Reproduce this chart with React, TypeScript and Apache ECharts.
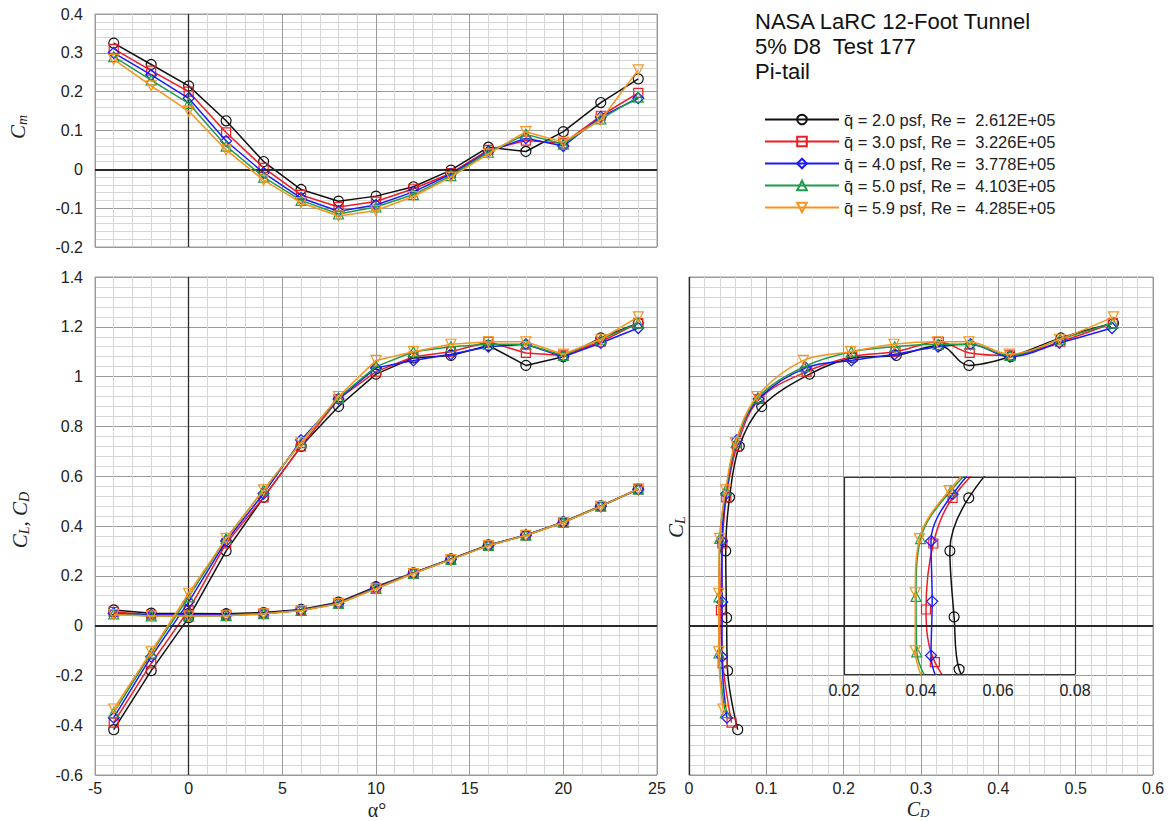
import React, { useEffect, useRef } from 'react';
import * as echarts from 'echarts';

const ALPHA = [-4, -2, 0, 2, 4, 6, 8, 10, 12, 14, 16, 18, 20, 22, 24];

const LEGEND_LABELS = [
  'q\u0304 = 2.0 psf, Re =  2.612E+05',
  'q\u0304 = 3.0 psf, Re =  3.226E+05',
  'q\u0304 = 4.0 psf, Re =  3.778E+05',
  'q\u0304 = 5.0 psf, Re =  4.103E+05',
  'q\u0304 = 5.9 psf, Re =  4.285E+05',
];
const COLORS = ['#111111', '#ee1c24', '#1a1aff', '#1f9a48', '#f7941d'];
const SYMBOLS = ['circle', 'rect', 'diamond', 'triangle', 'triangle'];
const SYMBOL_ROTATE = [0, 0, 0, 0, 180];
const SYMBOL_SIZE = [10, 9, 11, 10, 10];

// Pitching moment Cm vs alpha
const CM_Q20 = [0.325, 0.27, 0.215, 0.125, 0.02, -0.052, -0.082, -0.069, -0.045, -0.002, 0.057, 0.046, 0.097, 0.172, 0.233];
const CM_Q30 = [0.31, 0.254, 0.2, 0.095, 0.004, -0.066, -0.097, -0.083, -0.05, -0.01, 0.05, 0.074, 0.067, 0.138, 0.197];
const CM_Q40 = [0.3, 0.243, 0.183, 0.073, -0.009, -0.074, -0.108, -0.092, -0.058, -0.012, 0.046, 0.08, 0.06, 0.135, 0.183];
const CM_Q50 = [0.29, 0.23, 0.17, 0.06, -0.02, -0.08, -0.115, -0.097, -0.065, -0.016, 0.044, 0.09, 0.065, 0.13, 0.186];
const CM_Q59 = [0.283, 0.215, 0.15, 0.05, -0.028, -0.086, -0.12, -0.106, -0.07, -0.02, 0.04, 0.097, 0.07, 0.127, 0.256];

// Lift coefficient CL vs alpha
const CL_Q20 = [-0.418, -0.181, 0.032, 0.3, 0.515, 0.72, 0.88, 1.01, 1.075, 1.085, 1.125, 1.045, 1.08, 1.155, 1.215];
const CL_Q30 = [-0.39, -0.152, 0.062, 0.33, 0.515, 0.72, 0.91, 1.02, 1.08, 1.1, 1.14, 1.095, 1.085, 1.14, 1.215];
const CL_Q40 = [-0.37, -0.125, 0.095, 0.34, 0.53, 0.745, 0.91, 1.035, 1.065, 1.09, 1.12, 1.13, 1.08, 1.135, 1.195];
const CL_Q50 = [-0.35, -0.11, 0.115, 0.35, 0.545, 0.735, 0.915, 1.04, 1.1, 1.12, 1.13, 1.13, 1.085, 1.15, 1.215];
const CL_Q59 = [-0.335, -0.105, 0.13, 0.35, 0.545, 0.735, 0.92, 1.065, 1.1, 1.13, 1.14, 1.14, 1.09, 1.15, 1.24];

// Drag coefficient CD vs alpha
const CD_Q20 = [0.063, 0.0499, 0.0486, 0.0475, 0.0524, 0.065, 0.094, 0.156, 0.212, 0.268, 0.324, 0.362, 0.416, 0.481, 0.549];
const CD_Q30 = [0.055, 0.0436, 0.0413, 0.0432, 0.0482, 0.062, 0.091, 0.152, 0.211, 0.267, 0.323, 0.363, 0.415, 0.48, 0.548];
const CD_Q40 = [0.049, 0.0426, 0.0429, 0.0426, 0.0482, 0.062, 0.09, 0.151, 0.21, 0.266, 0.322, 0.364, 0.415, 0.479, 0.547];
const CD_Q50 = [0.047, 0.0389, 0.0387, 0.0399, 0.0478, 0.061, 0.089, 0.149, 0.21, 0.266, 0.322, 0.363, 0.415, 0.48, 0.548];
const CD_Q59 = [0.044, 0.0385, 0.0385, 0.0396, 0.0473, 0.06, 0.088, 0.148, 0.209, 0.265, 0.321, 0.362, 0.414, 0.479, 0.549];

// Inset (zoomed drag polar) axis range
const INSET_CD_RANGE = [0.02, 0.08];
const INSET_CL_RANGE = [-0.2, 0.6];

const CM_ALL = [CM_Q20, CM_Q30, CM_Q40, CM_Q50, CM_Q59];
const CL_ALL = [CL_Q20, CL_Q30, CL_Q40, CL_Q50, CL_Q59];
const CD_ALL = [CD_Q20, CD_Q30, CD_Q40, CD_Q50, CD_Q59];

const SANS = '"Liberation Sans", Arial, Helvetica, sans-serif';
const SERIF = '"Liberation Serif", "Times New Roman", serif';

const MAJOR = '#9a9a9a';
const MINOR = '#d6d6d6';
const LABEL = { color: '#222', fontSize: 16, fontFamily: SANS };

function valueAxis(gridIndex: number, min: number, max: number, interval: number, showLabels: boolean, margin: number) {
  return {
    type: 'value',
    gridIndex,
    min,
    max,
    interval,
    axisLine: { show: false },
    axisTick: { show: false },
    axisLabel: { show: showLabels, margin, ...LABEL },
    splitLine: { show: true, lineStyle: { color: MAJOR, width: 1 } },
    minorTick: { show: false, splitNumber: 5 },
    minorSplitLine: { show: true, lineStyle: { color: MINOR, width: 1 } },
  };
}

function refLines(x: number, y: number, name: string, data: any[], color = '#2a2a2a') {
  return {
    type: 'line',
    name,
    xAxisIndex: x,
    yAxisIndex: y,
    data: [],
    z: 1,
    silent: true,
    markLine: {
      silent: true,
      symbol: ['none', 'none'],
      label: { show: false },
      lineStyle: { color, type: 'solid' },
      data,
    },
  };
}

const ZERO = [{ yAxis: 0, lineStyle: { width: 2 } }, { xAxis: 0, lineStyle: { width: 1.3 } }];

export default function App() {
  const ref = useRef<HTMLDivElement>(null);

  useEffect(() => {
    if (!ref.current) return;
    const chart = echarts.init(ref.current, undefined, { renderer: 'svg' });

    const series: any[] = [
      refLines(0, 0, '_z0', ZERO),
      refLines(1, 1, '_z1', ZERO),
      refLines(2, 2, '_z2', ZERO),
      refLines(3, 3, '_frame', [
        { xAxis: INSET_CD_RANGE[0], lineStyle: { width: 1.2 } },
        { xAxis: INSET_CD_RANGE[1], lineStyle: { width: 1.2 } },
        { yAxis: INSET_CL_RANGE[0], lineStyle: { width: 1.2 } },
        { yAxis: INSET_CL_RANGE[1], lineStyle: { width: 1.2 } },
      ], '#333'),
    ];

    LEGEND_LABELS.forEach((name, i) => {
      const base = {
        type: 'line',
        name,
        symbol: SYMBOLS[i],
        symbolRotate: SYMBOL_ROTATE[i],
        symbolSize: SYMBOL_SIZE[i],
        showAllSymbol: true,
        lineStyle: { color: COLORS[i], width: 1.5 },
        itemStyle: { color: 'rgba(255,255,255,0)', borderColor: COLORS[i], borderWidth: 1.2 },
        z: 2 + i,
        emphasis: { disabled: true },
      };
      series.push({ ...base, xAxisIndex: 0, yAxisIndex: 0, data: ALPHA.map((a, k) => [a, CM_ALL[i][k]]) });
      series.push({ ...base, xAxisIndex: 1, yAxisIndex: 1, data: ALPHA.map((a, k) => [a, CL_ALL[i][k]]) });
      series.push({ ...base, xAxisIndex: 1, yAxisIndex: 1, data: ALPHA.map((a, k) => [a, CD_ALL[i][k]]) });
      series.push({ ...base, smooth: 0.35, xAxisIndex: 2, yAxisIndex: 2, data: ALPHA.map((_, k) => [CD_ALL[i][k], CL_ALL[i][k]]) });
      series.push({ ...base, smooth: 0.35, clip: true, xAxisIndex: 3, yAxisIndex: 3, data: ALPHA.map((_, k) => [CD_ALL[i][k], CL_ALL[i][k]]) });
    });

    const subRich = {
      c: { fontFamily: SERIF, fontStyle: 'italic', fontSize: 21, fill: '#222', color: '#222', lineHeight: 22, verticalAlign: 'middle' },
      s: { fontFamily: SERIF, fontStyle: 'italic', fontSize: 14, fill: '#222', color: '#222', lineHeight: 22, verticalAlign: 'bottom' },
    };
    const subRichSmall = {
      c: { fontFamily: SERIF, fontStyle: 'italic', fontSize: 20, fill: '#222', color: '#222', lineHeight: 19, verticalAlign: 'middle' },
      s: { fontFamily: SERIF, fontStyle: 'italic', fontSize: 13, fill: '#222', color: '#222', lineHeight: 19, verticalAlign: 'bottom' },
    };

    const option: any = {
      animation: false,
      backgroundColor: '#ffffff',
      grid: [
        { left: 95, top: 14, width: 562, height: 233, show: true, borderColor: MAJOR, borderWidth: 1, outerBoundsMode: 'none', containLabel: false },
        { left: 95, top: 277, width: 562, height: 498, show: true, borderColor: MAJOR, borderWidth: 1, outerBoundsMode: 'none', containLabel: false },
        { left: 689, top: 277, width: 464, height: 498, show: true, borderColor: MAJOR, borderWidth: 1, outerBoundsMode: 'none', containLabel: false },
        { left: 844, top: 477, width: 231, height: 197, show: false, outerBoundsMode: 'none', containLabel: false },
      ],
      xAxis: [
        valueAxis(0, -5, 25, 5, false, 6),
        valueAxis(1, -5, 25, 5, true, 5),
        valueAxis(2, 0, 0.6, 0.1, true, 5),
        {
          type: 'value', gridIndex: 3, min: INSET_CD_RANGE[0], max: INSET_CD_RANGE[1], interval: 0.02,
          axisLine: { show: false }, axisTick: { show: false },
          axisLabel: { show: true, margin: 8, ...LABEL },
          splitLine: { show: false },
        },
      ],
      yAxis: [
        valueAxis(0, -0.2, 0.4, 0.1, true, 12),
        valueAxis(1, -0.6, 1.4, 0.2, true, 12),
        valueAxis(2, -0.6, 1.4, 0.2, false, 12),
        {
          type: 'value', gridIndex: 3, min: INSET_CL_RANGE[0], max: INSET_CL_RANGE[1], interval: 0.2,
          axisLine: { show: false }, axisTick: { show: false },
          axisLabel: { show: false }, splitLine: { show: false },
        },
      ],
      legend: {
        data: LEGEND_LABELS,
        orient: 'vertical',
        left: 759,
        top: 106,
        itemWidth: 74,
        itemHeight: 12,
        itemGap: 5,
        selectedMode: false,
        textStyle: { fontSize: 16.5, lineHeight: 16, color: '#222', fontFamily: SANS },
      },
      graphic: [
        {
          type: 'text', left: 755, top: 9,
          style: {
            text: 'NASA LaRC 12-Foot Tunnel\n5% D8  Test 177\nPi-tail',
            fontSize: 22, lineHeight: 25, fontFamily: SANS, fill: '#111',
          },
        },
        {
          type: 'text', x: 18, y: 127, rotation: Math.PI / 2,
          style: { text: '{c|C}{s|m}', rich: subRich, align: 'center', verticalAlign: 'middle' },
        },
        {
          type: 'text', x: 20, y: 520, rotation: Math.PI / 2,
          style: { text: '{c|C}{s|L}{c|, C}{s|D}', rich: subRich, align: 'center', verticalAlign: 'middle' },
        },
        {
          type: 'text', x: 676, y: 527, rotation: Math.PI / 2,
          style: { text: '{c|C}{s|L}', rich: subRich, align: 'center', verticalAlign: 'middle' },
        },
        {
          type: 'text', x: 377, y: 810,
          style: { text: '\u03b1\u00b0', fontFamily: SERIF, fontSize: 20, fill: '#222', align: 'center', verticalAlign: 'middle' },
        },
        {
          type: 'text', x: 918, y: 809,
          style: { text: '{c|C}{s|D}', rich: subRichSmall, align: 'center', verticalAlign: 'middle' },
        },
      ],
      series,
    };

    chart.setOption(option);
    return () => chart.dispose();
  }, []);

  return (
    <div
      ref={ref}
      style={{ position: 'fixed', left: 0, top: 0, width: 1173, height: 821, background: '#fff' }}
    />
  );
}
